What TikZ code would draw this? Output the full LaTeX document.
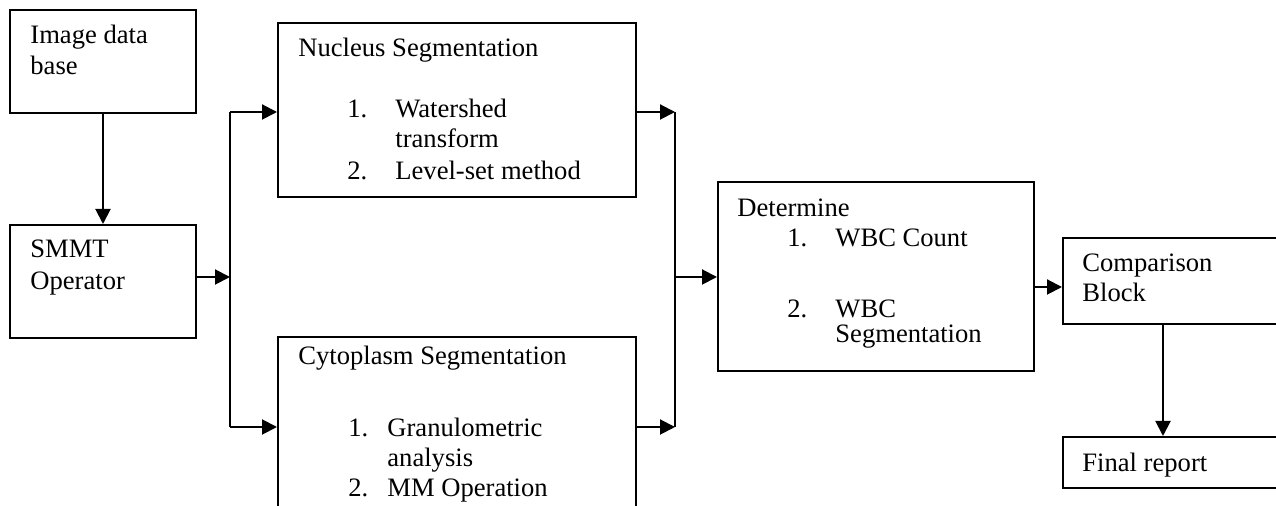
\documentclass[tikz,border=0pt]{standalone}
\usepackage{fontspec}
\setmainfont{Liberation Serif}
\usetikzlibrary{arrows.meta}
\begin{document}
\begin{tikzpicture}[x=0.5pt,y=-0.5pt,
  box/.style={draw,line width=1pt,rectangle,inner sep=0pt,anchor=north west},
  lbl/.style={anchor=base west,inner sep=0pt,font=\fontsize{13.3}{15.5}\selectfont},
  arr/.style={line width=1pt,-{Triangle[length=7.5pt,width=7.5pt]}},
  ln/.style={line width=1pt}]
\clip (0,0) rectangle (1276,506);
% boxes
\node[box,minimum width=93pt,minimum height=51.5pt] (db) at (9,9) {};
\node[box,minimum width=93pt,minimum height=56.5pt] (smmt) at (9,224) {};
\node[box,minimum width=179pt,minimum height=87pt] (nuc) at (277,22) {};
\node[box,minimum width=179pt,minimum height=100pt] (cyt) at (277,336) {};
\node[box,minimum width=158pt,minimum height=94.5pt] (det) at (717,181) {};
\node[box,minimum width=120pt,minimum height=43pt] (cmp) at (1062,237) {};
\node[box,minimum width=120pt,minimum height=25.5pt] (fin) at (1062,436) {};
% texts
\node[lbl] (t1) at (30,44) {Image data};
\node[lbl] (t2) at (30,75) {base};
\node[lbl] (t3) at (30,258) {SMMT};
\node[lbl] (t4) at (30,290) {Operator};
\node[lbl] (t5) at (298,57) {Nucleus Segmentation};
\node[lbl] (t6) at (347,118) {1.};
\node[lbl] (t7) at (395,118) {Watershed};
\node[lbl] (t8) at (395,148) {transform};
\node[lbl] (t9) at (347,180) {2.};
\node[lbl] (t10) at (395,180) {Level-set method};
\node[lbl] (t11) at (298,365) {Cytoplasm Segmentation};
\node[lbl] (t12) at (348,437) {1.};
\node[lbl] (t13) at (387,437) {Granulometric};
\node[lbl] (t14) at (387,467) {analysis};
\node[lbl] (t15) at (348,497) {2.};
\node[lbl] (t16) at (387,497) {MM Operation};
\node[lbl] (t17) at (737,217) {Determine};
\node[lbl] (t18) at (787,247) {1.};
\node[lbl] (t19) at (835,247) {WBC Count};
\node[lbl] (t20) at (787,318) {2.};
\node[lbl] (t21) at (835,318) {WBC};
\node[lbl] (t22) at (835,343) {Segmentation};
\node[lbl] (t23) at (1082,272) {Comparison};
\node[lbl] (t24) at (1082,302) {Block};
\node[lbl] (t25) at (1082,472) {Final report};
% connectors
\draw[arr] (db.south) -- (smmt.north);
\coordinate (js) at (230,277);
\coordinate (ja) at (230,112);
\coordinate (jb) at (230,427);
\draw[arr] (smmt.east |- js) -- (js);
\draw[ln] (ja) -- (jb);
\draw[arr] (ja) -- (ja -| nuc.west);
\draw[arr] (jb) -- (jb -| cyt.west);
\coordinate (ma) at (675,112);
\coordinate (mb) at (675,427);
\coordinate (mm) at (675,277);
\draw[arr] (ma -| nuc.east) -- (ma);
\draw[arr] (mb -| cyt.east) -- (mb);
\draw[ln] (ma) -- (mb);
\draw[arr] (mm) -- (mm -| det.west);
\coordinate (dc) at (1040,287);
\draw[arr] (dc -| det.east) -- (dc -| cmp.west);
\coordinate (cf) at (1163,0);
\draw[arr] (cf |- cmp.south) -- (cf |- fin.north);
\end{tikzpicture}
\end{document}
